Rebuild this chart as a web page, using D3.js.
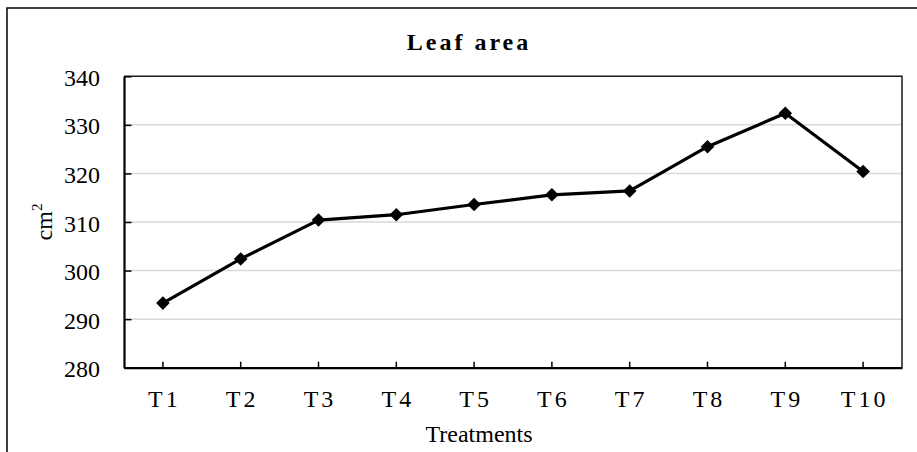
<!DOCTYPE html>
<html>
<head>
<meta charset="utf-8">
<script src="https://cdn.jsdelivr.net/npm/d3@7"></script>
<style>
  html, body { margin: 0; padding: 0; background: #fff; }
  svg { display: block; }
  text { font-family: "Times New Roman", "Liberation Serif", serif; fill: #000; }
</style>
</head>
<body>
<svg id="chart" width="917" height="452"></svg>
<script>
const categories = ["T1", "T2", "T3", "T4", "T5", "T6", "T7", "T8", "T9", "T10"];
const leafArea = [293.3, 302.4, 310.4, 311.5, 313.6, 315.6, 316.4, 325.5, 332.4, 320.4];
const yTicks = [280, 290, 300, 310, 320, 330, 340];
const titleText = "Leaf area";
const xTitle = "Treatments";

const svg = d3.select("#chart");
const plot = { left: 124, right: 902, top: 76.3, bottom: 367.7 };
const serif = '"Times New Roman", "Liberation Serif", serif';

// outer chart frame (extends beyond the visible area on right and bottom)
svg.append("rect")
  .attr("x", 7).attr("y", 8).attr("width", 1000).attr("height", 1000)
  .attr("fill", "#fff").attr("stroke", "#000").attr("stroke-width", 1.5);

const x = d3.scaleBand().domain(categories).range([plot.left, plot.right]).paddingInner(0).paddingOuter(0);
const y = d3.scaleLinear().domain([280, 340]).range([plot.bottom, plot.top]);
const cx = d => x(d) + x.bandwidth() / 2;

// gridlines
svg.append("g").selectAll("line").data(yTicks.filter(t => t !== 280 && t !== 340)).join("line")
  .attr("x1", plot.left).attr("x2", plot.right)
  .attr("y1", d => y(d)).attr("y2", d => y(d))
  .attr("stroke", "#d9d9d9").attr("stroke-width", 1.5);

// plot area border (top & right)
svg.append("path")
  .attr("d", `M${plot.left},${y(340)}H${plot.right}V${plot.bottom}`)
  .attr("fill", "none").attr("stroke", "#1a1a1a").attr("stroke-width", 1.5);

// y axis
const yAxis = d3.axisLeft(y).tickValues(yTicks).tickSizeInner(-7.5).tickSizeOuter(0).tickPadding(24);
const gy = svg.append("g").attr("transform", `translate(${plot.left},0)`).call(yAxis);
gy.attr("font-family", serif);
gy.select(".domain").attr("stroke", "#000").attr("stroke-width", 2.2);
gy.selectAll(".tick line").attr("stroke", "#000").attr("stroke-width", 1.5);
gy.selectAll(".tick text")
  .attr("font-size", 24).attr("font-family", serif)
  .attr("fill", "#000").attr("dy", "0.38em");

// x axis
const xAxis = d3.axisBottom(x).tickSizeInner(-6).tickSizeOuter(0).tickPadding(0);
const gx = svg.append("g").attr("transform", `translate(0,${plot.bottom})`).call(xAxis);
gx.attr("font-family", serif);
gx.select(".domain").attr("stroke", "#000").attr("stroke-width", 2.2);
gx.selectAll(".tick line").attr("stroke", "#000").attr("stroke-width", 1.5);
gx.selectAll(".tick text")
  .attr("font-size", 24).attr("font-family", serif)
  .attr("fill", "#000").attr("letter-spacing", "3px")
  .attr("dy", null).attr("y", 39).attr("dx", "1.5px");

// line
const line = d3.line().x((d, i) => cx(categories[i])).y(d => y(d));
svg.append("path").datum(leafArea)
  .attr("d", line).attr("fill", "none").attr("stroke", "#000")
  .attr("stroke-width", 3.2).attr("stroke-linejoin", "round");

// diamond markers
const sym = d3.symbol(d3.symbolSquare, 92);
svg.append("g").selectAll("path").data(leafArea).join("path")
  .attr("d", sym)
  .attr("transform", (d, i) => `translate(${cx(categories[i])},${y(d)}) rotate(45)`)
  .attr("fill", "#000");

// title
svg.append("text")
  .attr("x", 469).attr("y", 50).attr("text-anchor", "middle")
  .attr("font-size", 24).attr("font-weight", "bold").attr("letter-spacing", "3px")
  .text(titleText);

// x axis title
svg.append("text")
  .attr("x", 479).attr("y", 442).attr("text-anchor", "middle")
  .attr("font-size", 24)
  .text(xTitle);

// y axis title: cm²
const yt = svg.append("text")
  .attr("transform", `translate(52,${(plot.top + plot.bottom) / 2}) rotate(-90)`)
  .attr("text-anchor", "middle")
  .attr("font-size", 24);
yt.append("tspan").text("cm");
yt.append("tspan").attr("font-size", 15).attr("dy", -10).text("2");
</script>
</body>
</html>
